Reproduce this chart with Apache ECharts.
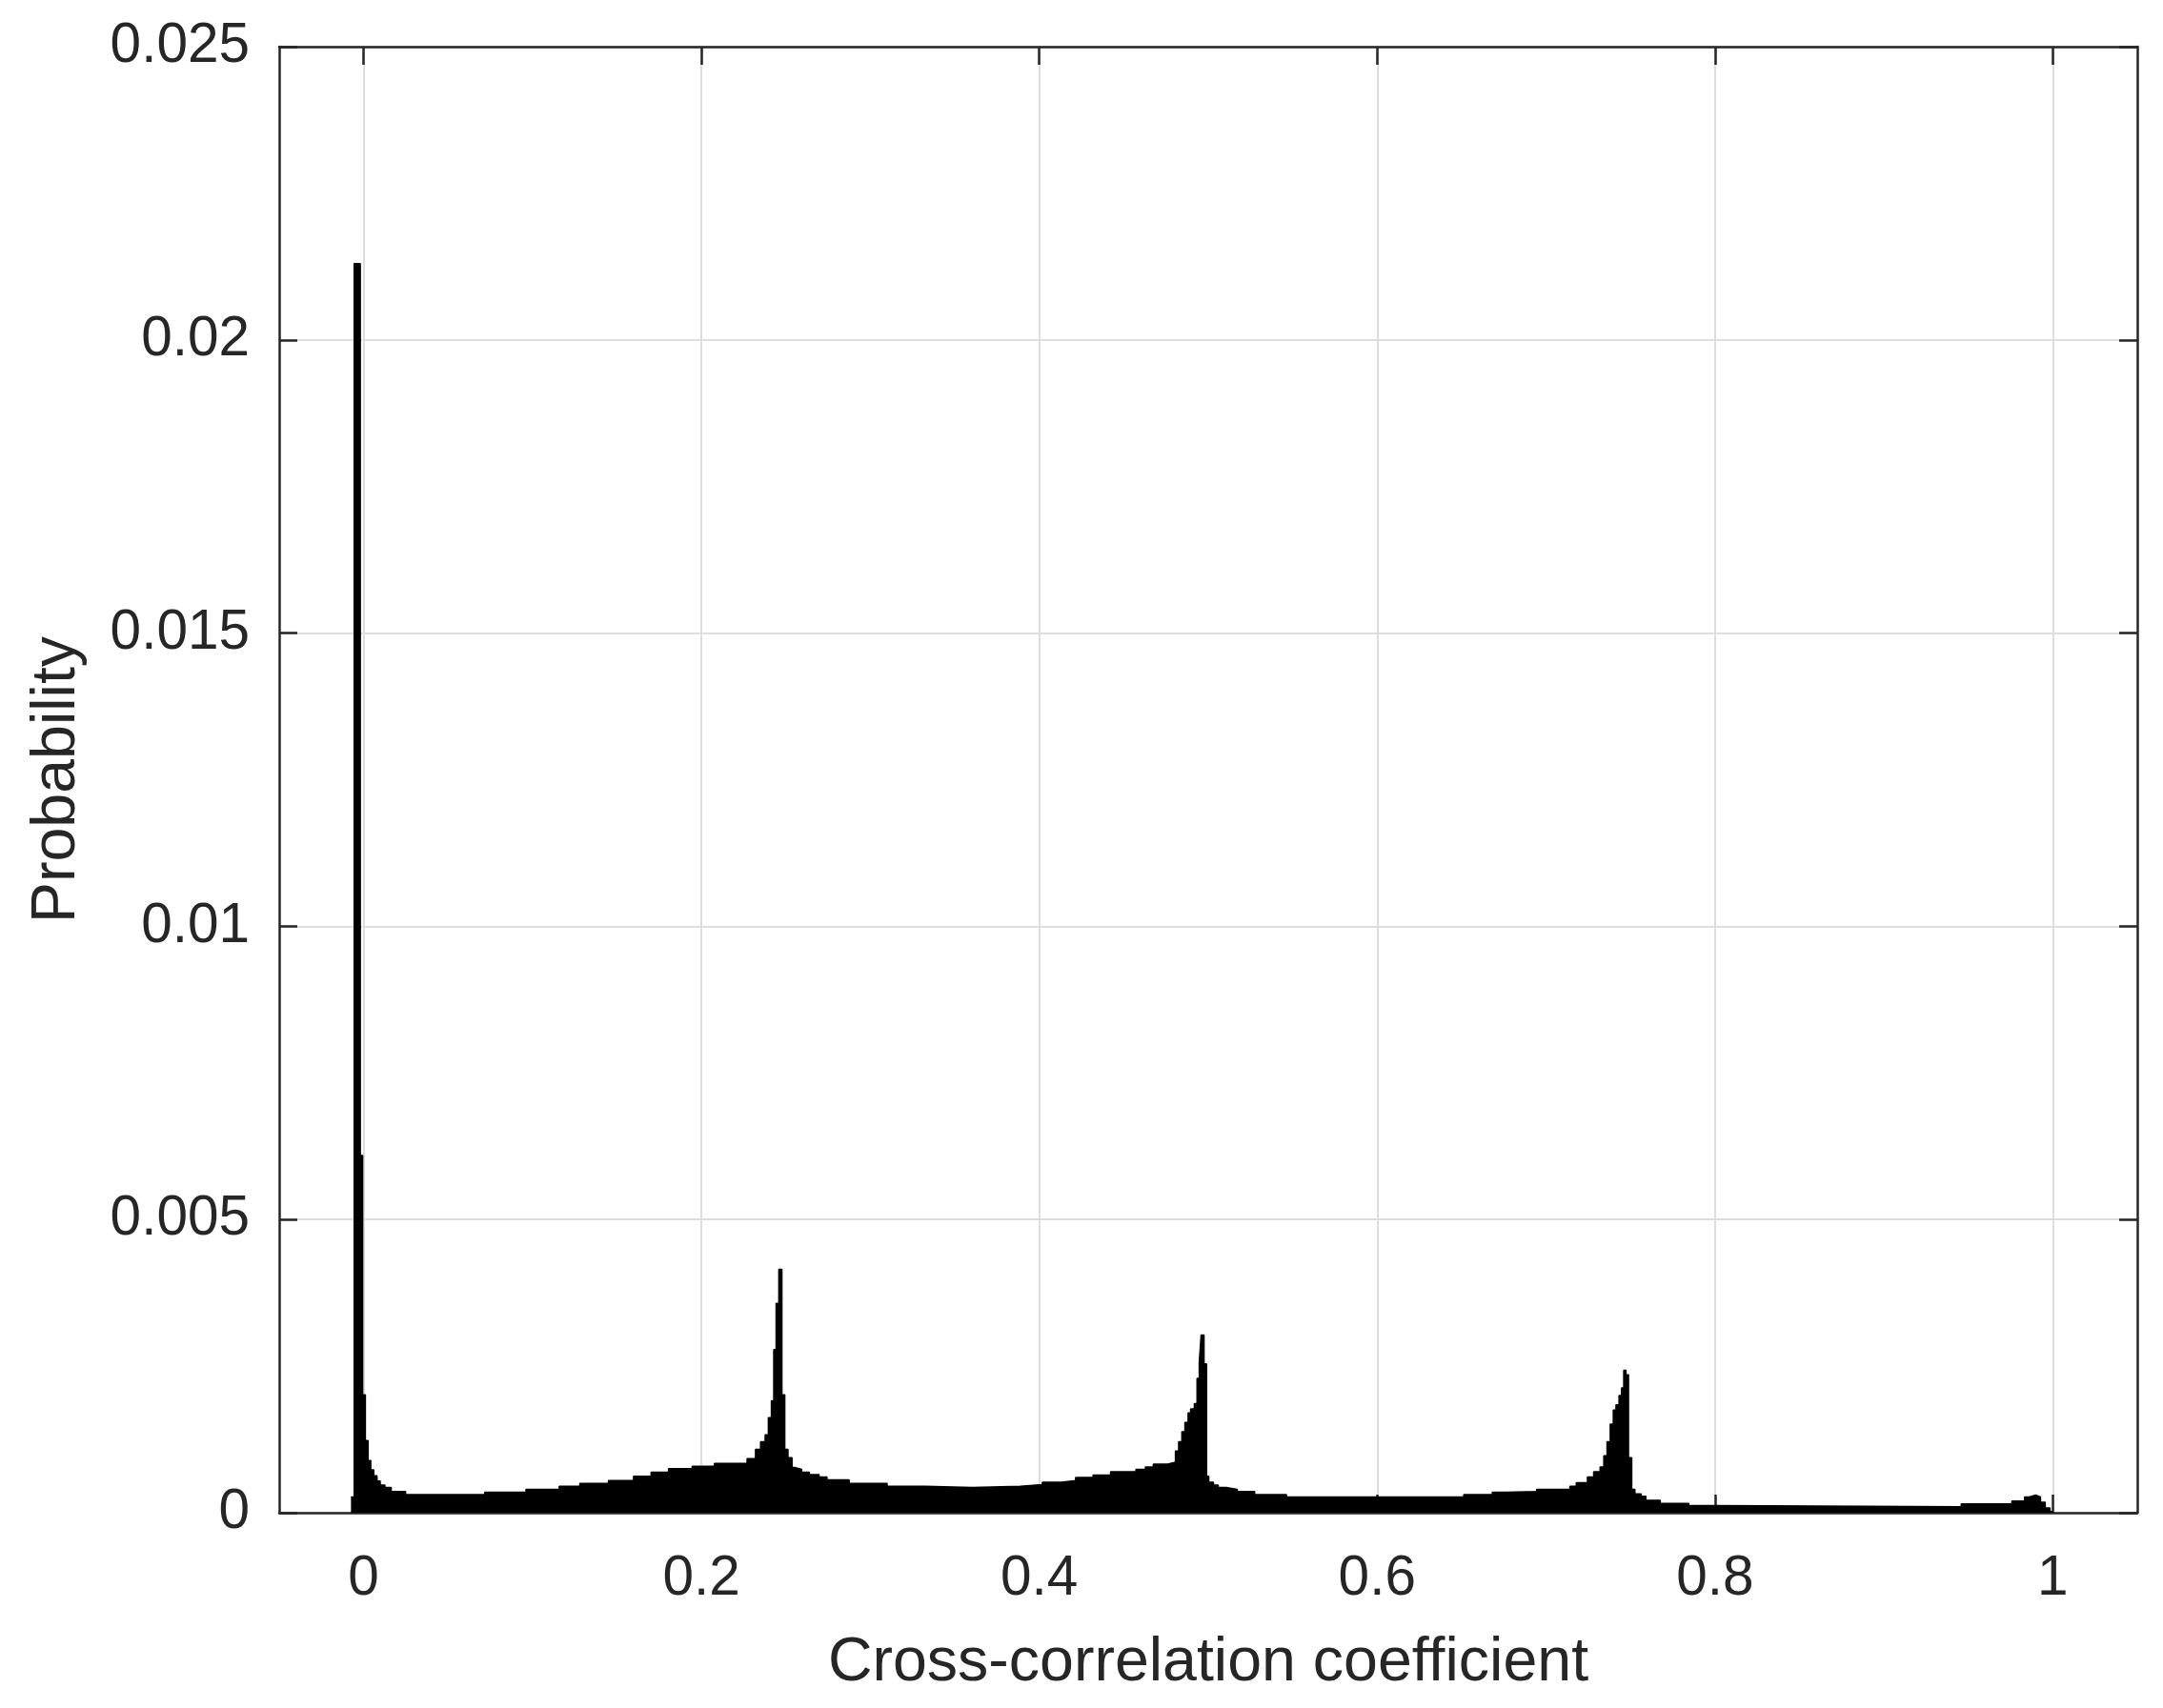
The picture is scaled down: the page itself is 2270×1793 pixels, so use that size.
<!DOCTYPE html>
<html>
<head>
<meta charset="utf-8">
<title>Cross-correlation histogram</title>
<script src="https://cdn.jsdelivr.net/npm/echarts@6/dist/echarts.min.js"></script>
<style>
    html, body { margin: 0; padding: 0; background: #fff; }
    #main { width: 2270px; height: 1793px; }
</style>
</head>
<body>
<div id="main"></div>
<script>
    // bin edges (start of each bin, last entry closes the final bin)
    var binEdges = [
        -0.0075, -0.0056, -0.0020, -0.0006, 0.0010, 0.0026, 0.0042, 0.0060, 0.0079, 0.0098,
        0.0126, 0.0163, 0.0248, 0.0717, 0.0961, 0.1158, 0.1280, 0.1449, 0.1598, 0.1702,
        0.1805, 0.1945, 0.2077, 0.2270, 0.2320, 0.2350, 0.2377, 0.2396, 0.2414, 0.2428,
        0.2442, 0.2458, 0.2476, 0.2493, 0.2512, 0.2536, 0.2555, 0.2593, 0.2639, 0.2696,
        0.2743, 0.2874, 0.3099, 0.3324, 0.3606, 0.3887, 0.4018, 0.4131, 0.4215, 0.4318,
        0.4422, 0.4572, 0.4628, 0.4675, 0.4759, 0.4806, 0.4825, 0.4844, 0.4862, 0.4881,
        0.4896, 0.4918, 0.4934, 0.4947, 0.4958, 0.4975, 0.4990, 0.5003, 0.5031, 0.5059,
        0.5106, 0.5172, 0.5275, 0.5463, 0.6513, 0.6682, 0.6766, 0.6944, 0.7141, 0.7179,
        0.7245, 0.7282, 0.7320, 0.7342, 0.7361, 0.7380, 0.7398, 0.7414, 0.7432, 0.7447,
        0.7460, 0.7473, 0.7488, 0.7507, 0.7526, 0.7563, 0.7591, 0.7676, 0.7845, 0.8005,
        0.9458, 0.9758, 0.9833, 0.9861, 0.9899, 0.9927, 0.9955, 0.9983, 0.9998
    ];
    // probability of each bin
    var probability = [
        0.00027, 0.0213, 0.00609, 0.00201, 0.00123, 0.00089, 0.00073, 0.00063, 0.00054, 0.00047,
        0.00043, 0.00036, 0.00031, 0.00035, 0.00040, 0.00045, 0.00050, 0.00055, 0.00062, 0.00069,
        0.00075, 0.00079, 0.00084, 0.00092, 0.00108, 0.00121, 0.00133, 0.00162, 0.00191, 0.00278,
        0.00357, 0.00415, 0.00201, 0.00108, 0.00094, 0.00077, 0.00074, 0.00069, 0.00065, 0.00061,
        0.00056, 0.00050, 0.00045, 0.00043, 0.00045, 0.00048, 0.00052, 0.00055, 0.00060, 0.00064,
        0.00070, 0.00074, 0.00078, 0.00083, 0.00086, 0.00105, 0.00121, 0.00138, 0.00154, 0.00170,
        0.00177, 0.00186, 0.00229, 0.00257, 0.00303, 0.00254, 0.00062, 0.00052, 0.00047, 0.00043,
        0.00040, 0.00036, 0.00031, 0.00027, 0.00031, 0.00035, 0.00036, 0.00040, 0.00045, 0.00051,
        0.00061, 0.00070, 0.00078, 0.00097, 0.00121, 0.00151, 0.00175, 0.00184, 0.00200, 0.00213,
        0.00243, 0.00235, 0.00094, 0.00040, 0.00032, 0.00028, 0.00021, 0.00016, 0.00012, 0.00010,
        0.00015, 0.00020, 0.00027, 0.00030, 0.00027, 0.00018, 0.00008, 0.00002
    ];
    var xTicks = [0, 0.2, 0.4, 0.6, 0.8, 1];
    var yTicks = [0, 0.005, 0.01, 0.015, 0.02, 0.025];

    var histData = [];
    for (var i = 0; i < probability.length; i++) {
        histData.push([binEdges[i], probability[i]]);
    }
    histData.push([binEdges[binEdges.length - 1], 0]);

    var font = '"Liberation Sans", Arial, Helvetica, sans-serif';
    var axisColor = '#262626';
    var gridColor = '#dedede';

    var frameAxis = {
        axisLine: { show: true, onZero: false, lineStyle: { color: axisColor, width: 2.5 } },
        axisTick: { show: true, inside: true, length: 19, lineStyle: { color: axisColor, width: 2.5 } },
        axisLabel: { show: false },
        splitLine: { show: false }
    };

    var option = {
        animation: false,
        backgroundColor: '#fff',
        grid: { left: 293, top: 49, width: 1950, height: 1539, containLabel: false },
        xAxis: [
            {
                type: 'value',
                position: 'bottom',
                min: -0.05,
                max: 1.05,
                name: 'Cross-correlation coefficient',
                nameLocation: 'middle',
                nameGap: 126,
                nameTextStyle: { fontFamily: font, fontSize: 64.5, color: axisColor },
                axisLine: { show: true, onZero: false, lineStyle: { color: axisColor, width: 2.5 } },
                axisTick: { show: true, inside: true, length: 19, customValues: xTicks, lineStyle: { color: axisColor, width: 2.5 } },
                axisLabel: { show: true, customValues: xTicks, margin: 40, fontFamily: font, fontSize: 58.5, color: axisColor },
                splitLine: { show: true, lineStyle: { color: gridColor, width: 2 } }
            },
            Object.assign({ type: 'value', position: 'top', min: -0.05, max: 1.05 }, frameAxis, {
                axisTick: { show: true, inside: true, length: 19, customValues: xTicks, lineStyle: { color: axisColor, width: 2.5 } }
            })
        ],
        yAxis: [
            {
                type: 'value',
                position: 'left',
                min: 0,
                max: 0.025,
                interval: 0.005,
                name: 'Probability',
                nameLocation: 'middle',
                nameGap: 200,
                nameTextStyle: { fontFamily: font, fontSize: 64.5, color: axisColor },
                axisLine: { show: true, onZero: false, lineStyle: { color: axisColor, width: 2.5 } },
                axisTick: { show: true, inside: true, length: 19, lineStyle: { color: axisColor, width: 2.5 } },
                axisLabel: { show: true, margin: 31, fontFamily: font, fontSize: 58.5, color: axisColor },
                splitLine: { show: true, lineStyle: { color: gridColor, width: 2 } }
            },
            Object.assign({ type: 'value', position: 'right', min: 0, max: 0.025, interval: 0.005 }, frameAxis)
        ],
        series: [
            {
                type: 'line',
                step: 'end',
                data: histData,
                showSymbol: false,
                symbol: 'none',
                lineStyle: { color: '#000', width: 1.5 },
                areaStyle: { color: '#000', opacity: 1 },
                z: 3
            }
        ]
    };

    var myChart = echarts.init(document.getElementById('main'));
    myChart.setOption(option);
</script>
</body>
</html>
